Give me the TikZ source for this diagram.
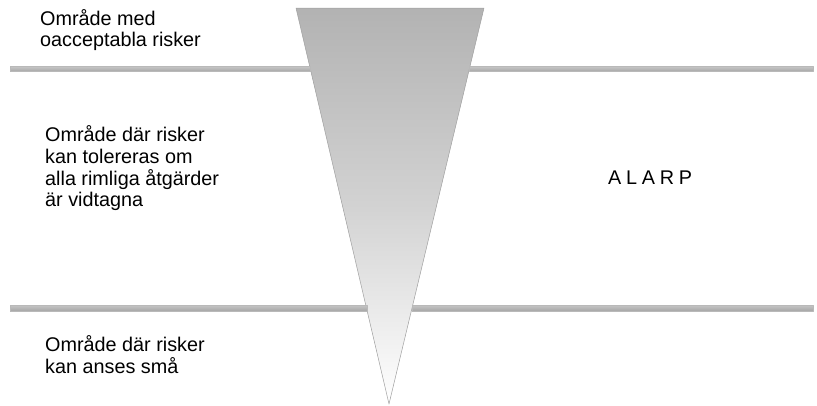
\documentclass[tikz,border=0pt]{standalone}
\usepackage{fontspec}
\setmainfont{Liberation Sans}
\begin{document}
\begin{tikzpicture}[x=1pt,y=-1pt,line cap=round,line join=round,
  zone/.style={anchor=base west,inner sep=0pt,align=left,
    font=\fontsize{19.8}{21.7}\selectfont},
  bar/.style={top color=gray!45,bottom color=gray!70,draw=gray!55,line width=0.4pt}]
  \useasboundingbox (0,0) rectangle (817,405);
  % the funnel
  \draw[top color=gray!60,bottom color=white,middle color=gray!35,draw=gray!75,line width=0.5pt]
    (296,8) -- (484,8) -- (389,404) -- cycle;
  % level bars
  \path[bar] (10,66.5) rectangle (310.5,71.5);
  \path[bar] (469.5,66.5) rectangle (813,71.5);
  \path[bar] (10,305) rectangle (367,311);
  \path[bar] (412,305) rectangle (813,311);
  % texts (base = last line)
  \node[zone] (top) at (40,46.7) {Område med\\oacceptabla risker};
  \node[zone] (mid) at (45,206.7) {Område där risker\\kan tolereras om\\alla rimliga åtgärder\\är vidtagna};
  \node[zone] (low) at (45,373.3) {Område där risker\\kan anses små};
  \node[zone] (alarp) at (608,184) {A\hspace{0.24em}L\hspace{0.24em}A\hspace{0.24em}R\hspace{0.24em}P};
\end{tikzpicture}
\end{document}
